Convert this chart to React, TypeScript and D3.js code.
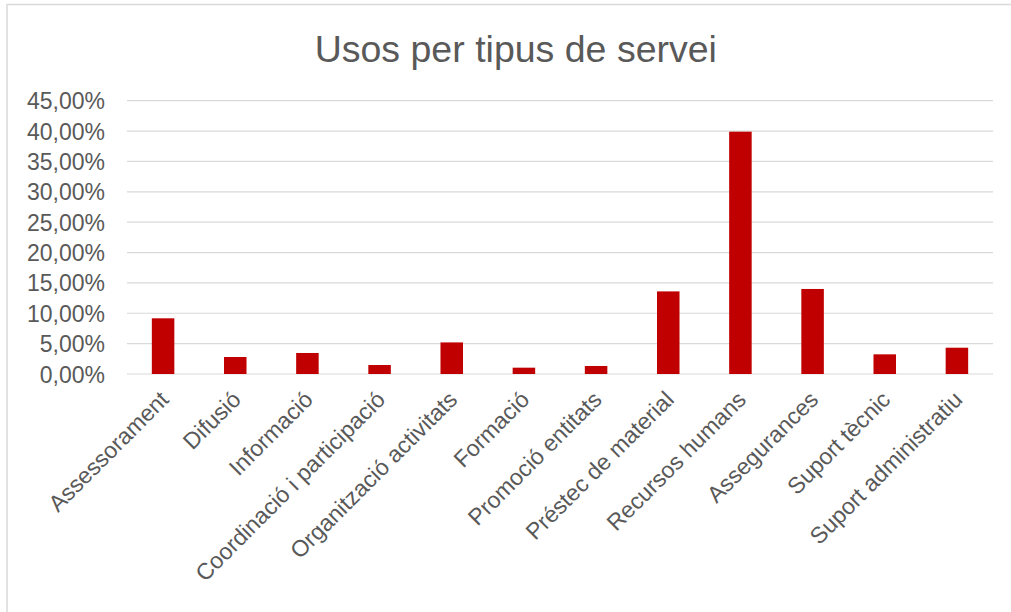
import React from "react";
import * as d3 from "d3";

const categories: string[] = [
  "Assessorament",
  "Difusió",
  "Informació",
  "Coordinació i participació",
  "Organització activitats",
  "Formació",
  "Promoció entitats",
  "Préstec de material",
  "Recursos humans",
  "Assegurances",
  "Suport tècnic",
  "Suport administratiu",
];

const values: number[] = [9.17, 2.8, 3.46, 1.48, 5.2, 1.04, 1.32, 13.6, 39.9, 14.0, 3.24, 4.33];

const yTicks: number[] = [0, 5, 10, 15, 20, 25, 30, 35, 40, 45];

const title = "Usos per tipus de servei";

const W = 1011;
const H = 612;
const FONT = "'Liberation Sans', Arial, sans-serif";
const TEXT = "#595959";
const GRID = "#D9D9D9";
const BAR = "#C00000";

const fmt = (v: number) => v.toFixed(2).replace(".", ",") + "%";

export default function App() {
  const x = d3
    .scaleBand<string>()
    .domain(categories)
    .range([127, 993])
    .paddingInner(0.688)
    .paddingOuter(0.344);
  const y = d3.scaleLinear().domain([0, 45]).range([374, 100.7]);

  return (
    <svg
      width={W}
      height={H}
      style={{ position: "absolute", left: 0, top: 0, background: "#fff" }}
      fontFamily={FONT}
    >
      <rect x={7} y={4.5} width={1010} height={620} fill="#fff" stroke={GRID} strokeWidth={1.5} />
      <text x={515.8} y={61.7} textAnchor="middle" fontSize={37.5} fill={TEXT}>
        {title}
      </text>
      {yTicks.map((t) => (
        <g key={t}>
          <line x1={127} x2={993} y1={y(t)} y2={y(t)} stroke={GRID} strokeWidth={1.2} />
          <text x={105} y={y(t) + 8.5} textAnchor="end" fontSize={23} fill={TEXT}>
            {fmt(t)}
          </text>
        </g>
      ))}
      {categories.map((c, i) => (
        <rect
          key={c}
          x={x(c)!}
          y={y(values[i])}
          width={x.bandwidth()}
          height={y(0) - y(values[i])}
          fill={BAR}
        />
      ))}
      {categories.map((c) => {
        const cx = x(c)! + x.bandwidth() / 2;
        return (
          <text
            key={"l" + c}
            transform={`translate(${cx + 7},${401}) rotate(-45)`}
            textAnchor="end"
            fontSize={23}
            fill={TEXT}
          >
            {c}
          </text>
        );
      })}
    </svg>
  );
}
